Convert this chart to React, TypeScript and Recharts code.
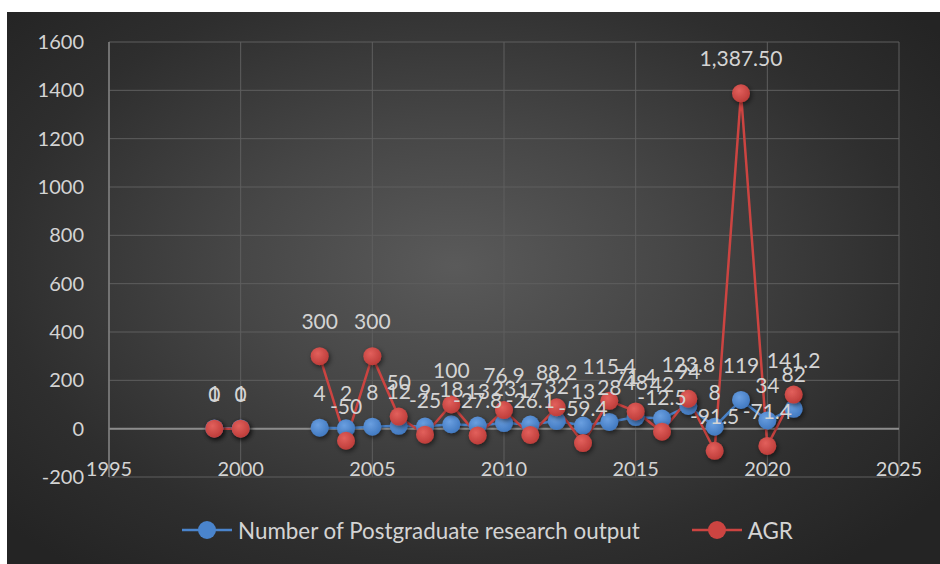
import React from 'react';
import { LineChart, Line, XAxis, YAxis, CartesianGrid, Legend, LabelList, ReferenceLine } from 'recharts';

const years = [1999, 2000, 2001, 2002, 2003, 2004, 2005, 2006, 2007, 2008, 2009, 2010, 2011, 2012, 2013, 2014, 2015, 2016, 2017, 2018, 2019, 2020, 2021];
const postgraduateOutput = [1, 1, null, null, 4, 2, 8, 12, 9, 18, 13, 23, 17, 32, 13, 28, 48, 42, 94, 8, 119, 34, 82];
const agr = [0, 0, null, null, 300, -50, 300, 50, -25, 100, -27.8, 76.9, -26.1, 88.2, -59.4, 115.4, 71.4, -12.5, 123.8, -91.5, 1387.5, -71.4, 141.2];
const xTicks = [1995, 2000, 2005, 2010, 2015, 2020, 2025];
const yTicks = [-200, 0, 200, 400, 600, 800, 1000, 1200, 1400, 1600];
const seriesNames = ['Number of Postgraduate research output', 'AGR'];

const data = years.map((year, i) => ({ year, output: postgraduateOutput[i], agr: agr[i] }));

const FONT = "Lato, 'Open Sans', sans-serif";
const TEXT = '#d4d4d4';
const BLUE = '#4a84cc';
const RED = '#cc4441';

const fmt = (v: number) =>
  Math.abs(v) >= 1000 ? v.toLocaleString('en-US', { minimumFractionDigits: 2, maximumFractionDigits: 2 }) : String(v);

const XTick = (props: any) => {
  const { x, y, payload } = props;
  return (
    <text x={x} y={y - 1} textAnchor="middle" fill={TEXT} fontSize={20} fontFamily={FONT}>
      {payload.value}
    </text>
  );
};

const YTick = (props: any) => {
  const { x, y, payload } = props;
  return (
    <text x={x} y={y + 7} textAnchor="end" fill={TEXT} fontSize={20} fontFamily={FONT}>
      {payload.value}
    </text>
  );
};

const makeDot = (grad: string) => (props: any) => {
  const { cx, cy, value, index } = props;
  if (value == null || cx == null || cy == null) return <g key={index} />;
  return <circle key={index} cx={cx} cy={cy} r={9} fill={`url(#${grad})`} filter="url(#dotShadow)" />;
};

const makeLabel = () => (props: any) => {
  const { x, y, value, index } = props;
  if (value == null || x == null || y == null) return <g key={index} />;
  return (
    <text key={index} x={x} y={y - 27} textAnchor="middle" fill={TEXT} fontSize={21} fontFamily={FONT}>
      {fmt(value)}
    </text>
  );
};

const LegendContent = () => (
  <div style={{ display: 'flex', alignItems: 'center', paddingLeft: 175, height: 30, fontFamily: FONT, fontSize: 22.4, color: TEXT }}>
    {[BLUE, RED].map((c, i) => (
      <div key={i} style={{ display: 'flex', alignItems: 'center', marginRight: 52 }}>
        <svg width={50} height={24} style={{ marginRight: 6 }}>
          <line x1={0} y1={12} x2={50} y2={12} stroke={c} strokeWidth={2.5} />
          <circle cx={25} cy={12} r={9} fill={c} />
        </svg>
        <span>{seriesNames[i]}</span>
      </div>
    ))}
  </div>
);

export default function App() {
  return (
    <div
      style={{
        position: 'absolute',
        left: 7,
        top: 12,
        width: 933,
        height: 552,
        background: 'radial-gradient(ellipse 65% 70% at 48% 46%, #5a5a5a 0%, #474747 35%, #2e2e2e 75%, #242424 100%)',
      }}
    >
      <LineChart width={933} height={552} data={data} margin={{ top: 30, right: 41, bottom: 19, left: 0 }}>
        <defs>
          <radialGradient id="gBlue" cx="40%" cy="35%" r="70%">
            <stop offset="0%" stopColor="#6a9fe0" />
            <stop offset="100%" stopColor="#3f77bf" />
          </radialGradient>
          <radialGradient id="gRed" cx="40%" cy="35%" r="70%">
            <stop offset="0%" stopColor="#e2605c" />
            <stop offset="100%" stopColor="#bb3a37" />
          </radialGradient>
          <filter id="dotShadow" x="-60%" y="-60%" width="220%" height="220%">
            <feDropShadow dx="1.5" dy="2" stdDeviation="2.5" floodColor="#000" floodOpacity="0.55" />
          </filter>
        </defs>
        <CartesianGrid stroke="#5e5e5e" strokeWidth={1} />
        <XAxis
          dataKey="year"
          type="number"
          domain={[1995, 2025]}
          ticks={xTicks}
          height={38}
          axisLine={false}
          tickLine={false}
          tickSize={0}
          tickMargin={0}
          tick={<XTick />}
          interval={0}
        />
        <YAxis
          type="number"
          domain={[-200, 1600]}
          ticks={yTicks}
          width={102}
          axisLine={{ stroke: '#808080', strokeWidth: 1.5 }}
          tickLine={false}
          tickSize={0}
          tickMargin={25}
          tick={<YTick />}
          interval={0}
        />
        <ReferenceLine y={0} stroke="#8c8c8c" strokeWidth={2} />
        <Legend verticalAlign="bottom" content={<LegendContent />} />
        <Line
          dataKey="output"
          name={seriesNames[0]}
          stroke={BLUE}
          strokeWidth={2.5}
          dot={makeDot('gBlue')}
          activeDot={false}
          connectNulls={false}
          isAnimationActive={false}
        >
          <LabelList dataKey="output" content={makeLabel()} />
        </Line>
        <Line
          dataKey="agr"
          name={seriesNames[1]}
          stroke={RED}
          strokeWidth={2.5}
          dot={makeDot('gRed')}
          activeDot={false}
          connectNulls={false}
          isAnimationActive={false}
        >
          <LabelList dataKey="agr" content={makeLabel()} />
        </Line>
      </LineChart>
    </div>
  );
}
